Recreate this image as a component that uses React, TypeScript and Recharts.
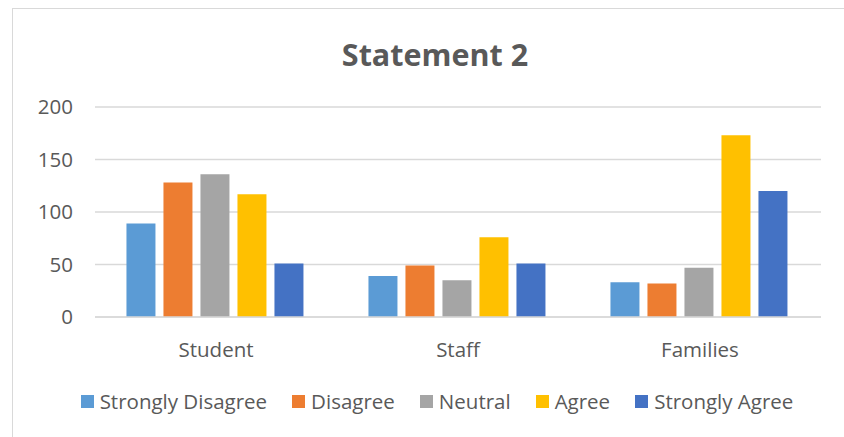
import React from "react";
import { BarChart, Bar, XAxis, YAxis, CartesianGrid } from "recharts";

const categories = ["Student", "Staff", "Families"];
const stronglyDisagree = [89, 39, 33];
const disagree = [128, 49, 32];
const neutral = [136, 35, 47];
const agree = [117, 76, 173];
const stronglyAgree = [51, 51, 120];
const yTicks = [0, 50, 100, 150, 200];

const seriesNames = ["Strongly Disagree", "Disagree", "Neutral", "Agree", "Strongly Agree"];
const seriesKeys = ["sd", "d", "n", "a", "sa"];
const seriesColors = ["#5B9BD5", "#ED7D31", "#A5A5A5", "#FFC000", "#4472C4"];

const data = categories.map((c, i) => ({
  name: c,
  sd: stronglyDisagree[i],
  d: disagree[i],
  n: neutral[i],
  a: agree[i],
  sa: stronglyAgree[i],
}));

const FONT = "'Open Sans', 'Noto Sans', sans-serif";
const TEXT = "#595959";

export default function App() {
  return (
    <div
      style={{
        position: "fixed",
        left: 0,
        top: 0,
        width: 844,
        height: 437,
        overflow: "hidden",
        background: "#fff",
        fontFamily: FONT,
      }}
    >
      <div
        style={{
          position: "absolute",
          left: 12,
          top: 8,
          width: 900,
          height: 500,
          border: "1px solid #d9d9d9",
          boxSizing: "border-box",
        }}
      />
      <div
        style={{
          position: "absolute",
          left: 12,
          top: 33,
          width: 846,
          textAlign: "center",
          fontSize: 30.5,
          fontWeight: "bold",
          color: TEXT,
          lineHeight: "normal",
        }}
      >
        Statement 2
      </div>
      <div style={{ position: "absolute", left: 0, top: 0 }}>
        <BarChart
          width={844}
          height={437}
          data={data}
          margin={{ top: 107, right: 23, left: 0, bottom: 0 }}
          barCategoryGap="13%"
          barGap={8}
        >
          <CartesianGrid vertical={false} stroke="#d9d9d9" strokeWidth={1.5} />
          <XAxis
            dataKey="name"
            axisLine={{ stroke: "#d9d9d9", strokeWidth: 1.5 }}
            tickLine={false}
            tickSize={0}
            tickMargin={25}
            height={120}
            tick={{ fill: TEXT, fontSize: 20.5, fontFamily: FONT }}
          />
          <YAxis
            width={95}
            domain={[0, 200]}
            ticks={yTicks}
            axisLine={false}
            tickLine={false}
            tickSize={0}
            tickMargin={22}
            tick={{ fill: TEXT, fontSize: 20.5, fontFamily: FONT }}
          />
          {seriesKeys.map((k, i) => (
            <Bar key={k} dataKey={k} name={seriesNames[i]} fill={seriesColors[i]} isAnimationActive={false} />
          ))}
        </BarChart>
      </div>
      <div
        style={{
          position: "absolute",
          left: 12,
          top: 387,
          width: 850,
          display: "flex",
          justifyContent: "center",
          alignItems: "center",
          fontSize: 20.5,
          lineHeight: "normal",
          color: TEXT,
          whiteSpace: "nowrap",
        }}
      >
        {seriesNames.map((n, i) => (
          <div key={n} style={{ display: "flex", alignItems: "center", marginRight: i < 4 ? 25 : 0 }}>
            <span style={{ display: "inline-block", width: 13, height: 13, background: seriesColors[i], marginRight: 6 }} />
            <span>{n}</span>
          </div>
        ))}
      </div>
    </div>
  );
}
